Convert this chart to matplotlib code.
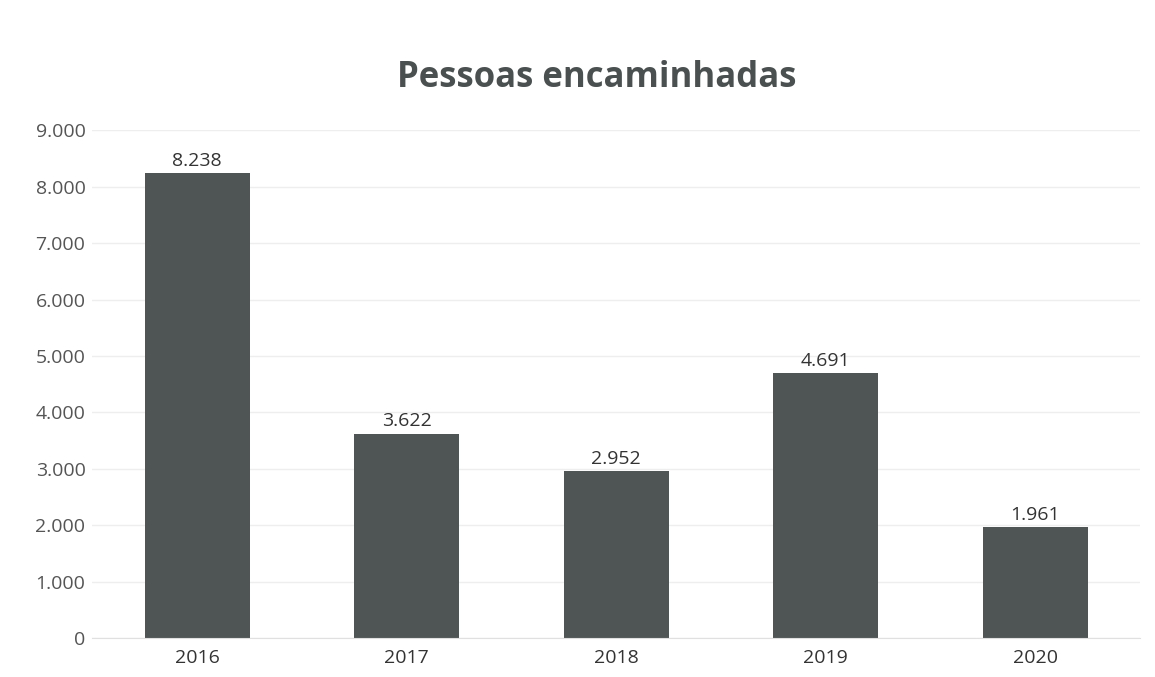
import matplotlib
matplotlib.use('Agg')
import matplotlib.pyplot as plt

anos = ['2016', '2017', '2018', '2019', '2020']
pessoas = [8238, 3622, 2952, 4691, 1961]
yticks = [0, 1000, 2000, 3000, 4000, 5000, 6000, 7000, 8000, 9000]

def fmt(v):
    return '{:,}'.format(v).replace(',', '.')

plt.rcParams['font.family'] = ['Open Sans', 'DejaVu Sans']

fig = plt.figure(figsize=(11.55, 6.77), dpi=100)
ax = fig.add_axes([0.0800, 0.0576, 0.9070, 0.750])

x = range(len(anos))
bars = ax.bar(x, pessoas, width=0.5, color='#4f5454', zorder=2)
for xi, v in zip(x, pessoas):
    ax.text(xi, v + 60, fmt(v), ha='center', va='bottom', fontsize=14, color='#333333')

ax.set_xlim(-0.5, len(anos) - 0.5)
ax.set_ylim(0, 9000)
ax.set_yticks(yticks)
ax.set_yticklabels([fmt(v) for v in yticks], fontsize=14, color='#555555')
ax.set_xticks(list(x))
ax.set_xticklabels(anos, fontsize=14, color='#333333')
ax.tick_params(axis='y', length=0, pad=5)
ax.tick_params(axis='x', length=0, pad=8)
ax.grid(axis='y', color='#eeeeee', linewidth=1, zorder=0)
for s in ['top', 'right', 'left']:
    ax.spines[s].set_visible(False)
ax.spines['bottom'].set_color('#e0e0e0')

fig.text(0.517, 0.885, 'Pessoas encaminhadas', ha='center', va='center',
         fontsize=25, fontweight='bold', color='#4a4f4f')

fig.savefig('out.png', dpi=100)
